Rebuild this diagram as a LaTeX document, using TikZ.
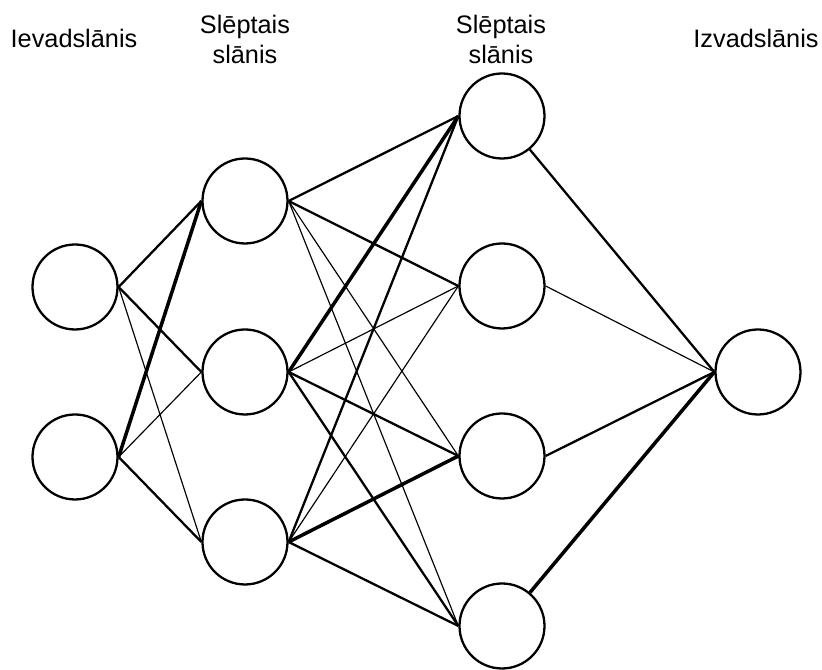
\documentclass[tikz,border=0pt]{standalone}
\usepackage{fontspec}
\setmainfont{Liberation Sans}
\usepackage{xcolor}
\usetikzlibrary{positioning,calc}

\begin{document}
\begin{tikzpicture}[
	neuron/.style={circle,draw,line width=0.65pt,minimum size=0.85cm,inner sep=0pt},
	layername/.style={anchor=base,align=center,font=\fontsize{7.2}{8.54}\selectfont},
	wthin/.style={line width=0.33pt},
	wmid/.style={line width=0.65pt},
	wthick/.style={line width=1pt}]
	\useasboundingbox (0,0) rectangle (8.22,6.70);
	
	% layers
	\node[neuron] (i1) at (0.75,3.83) {};
	\node[neuron] (i2) at (0.75,2.13) {};
	
	\node[neuron] (h11) at (2.45,4.69) {};
	\node[neuron] (h12) at (2.45,2.98) {};
	\node[neuron] (h13) at (2.45,1.28) {};
	
	\node[neuron] (h21) at (5.02,5.54) {};
	\node[neuron] (h22) at (5.02,3.84) {};
	\node[neuron] (h23) at (5.02,2.14) {};
	\node[neuron] (h24) at (5.02,0.44) {};
	
	\node[neuron] (o) at (7.58,2.98) {};
	
	% titles
	\node[layername] (ti) at (0.74,6.22) {Ievadslānis};
	\node[layername] (th1) at (2.45,6.06) {Slēptais\\slānis};
	\node[layername] (th2) at (5.01,6.06) {Slēptais\\slānis};
	\node[layername] (to) at (7.56,6.22) {Izvadslānis};
	
	% input to first hidden
	\draw[wmid] (i1.east) -- (h11.west);
	\draw[wmid] (i1.east) -- (h12.west);
	\draw[wthin] (i1.east) -- (h13.west);
	\draw[wthick] (i2.east) -- (h11.west);
	\draw[wthin] (i2.east) -- (h12.west);
	\draw[wmid] (i2.east) -- (h13.west);
	
	% first hidden to second hidden
	\draw[wmid] (h11.east) -- (h21.west);
	\draw[wmid] (h11.east) -- (h22.west);
	\draw[wthin] (h11.east) -- (h23.west);
	\draw[wthin] (h11.east) -- (h24.west);
	
	\draw[wthick] (h12.east) -- (h21.west);
	\draw[wthin] (h12.east) -- (h22.west);
	\draw[wmid] (h12.east) -- (h23.west);
	\draw[wmid] (h12.east) -- (h24.west);
	
	\draw[wmid] (h13.east) -- (h21.west);
	\draw[wthin] (h13.east) -- (h22.west);
	\draw[wthick] (h13.east) -- (h23.west);
	\draw[wmid] (h13.east) -- (h24.west);
	
	% second hidden to output
	\draw[wmid] (h21) -- (o.west);
	\draw[wthin] (h22.east) -- (o.west);
	\draw[wmid] (h23.east) -- (o.west);
	\draw[wthick] (h24) -- (o.west);
\end{tikzpicture}
\end{document}
